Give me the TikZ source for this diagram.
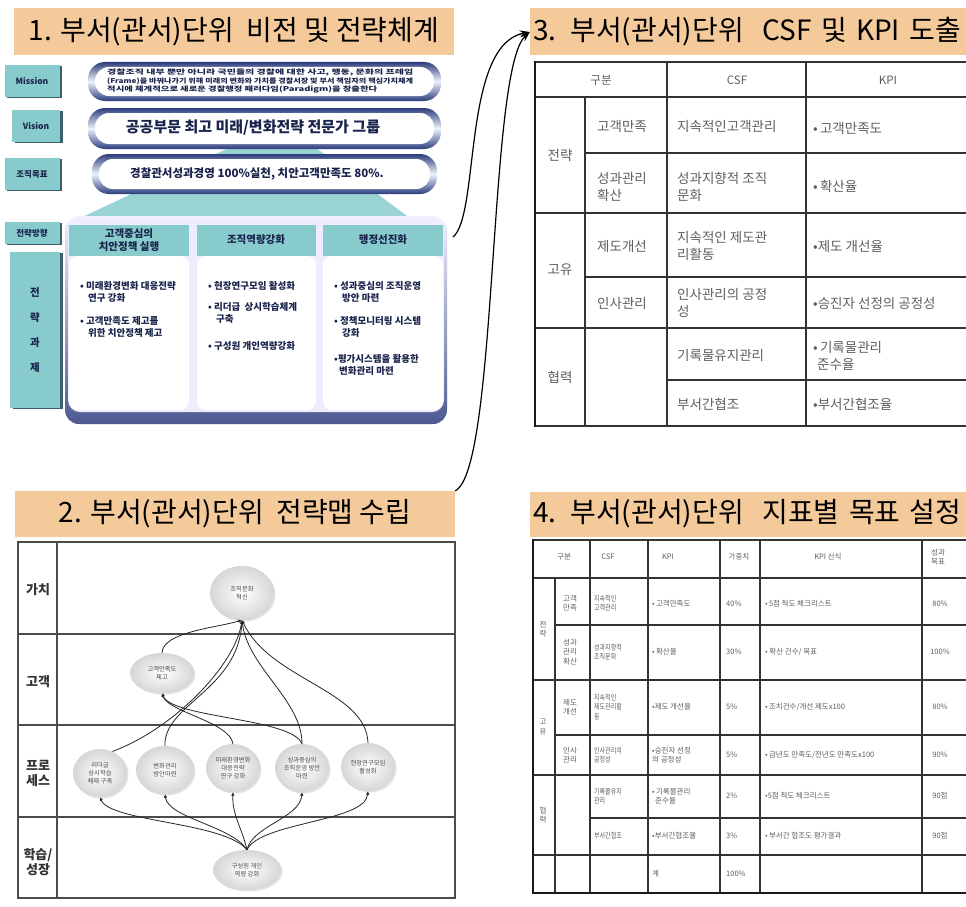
\documentclass[tikz,border=0pt]{standalone}
\usepackage{fontspec}
\setmainfont{Noto Sans CJK KR}
\usetikzlibrary{arrows.meta,shapes.geometric,shadows}
\definecolor{peach}{RGB}{245,202,155}
\definecolor{tealbox}{RGB}{135,203,204}
\definecolor{tealdark}{RGB}{60,95,105}
\definecolor{navy}{RGB}{45,60,125}
\definecolor{txtgray}{RGB}{95,95,95}
\definecolor{labnavy}{RGB}{25,35,75}
\definecolor{pale}{RGB}{236,243,250}
\newcommand{\fsz}[2]{\fontsize{#1}{#2}\selectfont}
\newcommand{\fitline}[2]{\resizebox{#1}{5.6pt}{\bfseries #2}}
\tikzset{
  titlebar/.style={fill=peach, minimum height=47pt, inner sep=0pt, font=\fsz{28}{31}},
  sidelab/.style={fill=tealbox, text=labnavy, font=\bfseries\fsz{8.5}{10}, inner sep=0pt, align=center,
     drop shadow={shadow xshift=2.5pt, shadow yshift=-1pt, fill=tealdark, opacity=1}},
  pillout/.style={rounded corners=17pt, top color=navy, bottom color=navy, middle color=pale},
  pillin/.style={rounded corners=14pt, fill=white},
  colhead/.style={fill=tealbox, text=labnavy, font=\bfseries\fsz{10.5}{13}, align=center, inner sep=0pt},
  colbody/.style={fill=white, rounded corners=9pt},
  bul/.style={anchor=north west, align=left, font=\bfseries\fsz{9.5}{12}, text=labnavy, inner sep=0pt},
  gridline/.style={line width=1.1pt, black!80},
  thickline/.style={line width=2.6pt, black!90},
  tbig/.style={text=txtgray, font=\fsz{13.5}{16.5}, align=left, inner sep=0pt},
  tsmall/.style={text=txtgray, font=\fsz{7.5}{9.5}, align=left, inner sep=0pt},
  rowlab/.style={text=black!80, font=\bfseries\fsz{13}{15}, align=center, inner sep=0pt},
  emap/.style={ellipse, inner sep=0pt, inner color=white, outer color=black!16, align=center, font=\fsz{6.3}{7.8}, text=black!70,
     drop shadow={shadow xshift=1.5pt, shadow yshift=-1.5pt, fill=black!25, opacity=0.45}},
  mapc/.style={line width=0.8pt, black!85, -{Latex[length=3.5pt,width=3.5pt]}},
  bigarrow/.style={line width=1.2pt, black, -{Stealth[length=10pt,width=7pt]}},
}
\begin{document}
\begin{tikzpicture}[x=1pt,y=-1pt]
\useasboundingbox (0,0) rectangle (966,907);
\fill[white] (0,0) rectangle (966,907);

%% ===== Panel 1 =====
\node[titlebar, minimum width=440pt] (t1) at (234,32) {1. 부서(관서)단위\ \ 비전 및 전략체계};

% teal mountain
\fill[tealbox!85] (235,145) -- (312,145) -- (415,222) -- (72,222) -- cycle;

% side labels
\node[sidelab, minimum width=55pt, minimum height=32pt] (lmis) at (32,81) {Mission};
\node[sidelab, minimum width=48pt, minimum height=32pt] (lvis) at (36,126) {Vision};
\node[sidelab, minimum width=55pt, minimum height=32pt] (lgoal) at (32,174) {조직목표};
\node[sidelab, minimum width=55pt, minimum height=22pt] (ldir) at (32,233) {전략방향};
\node[sidelab, minimum width=50pt, minimum height=156pt, font=\bfseries\fsz{10.5}{25}] (ltask) at (35,330) {전\\략\\과\\제};

% pills
\path[pillout] (88,62) rectangle (441,101);
\path[pillin] (95,67) rectangle (434,96);
\path[pillout] (88,108) rectangle (441,149);
\path[pillin] (95,113) rectangle (434,144);
\path[pillout] (92,154) rectangle (437,194);
\path[pillin] (99,159) rectangle (430,189);

\node[text=labnavy, align=left, inner sep=0pt, font=\fsz{7}{8.6}, anchor=west] (mtxt) at (107,81)
 {\fitline{306pt}{경찰조직 내부 뿐만 아니라 국민들의 경찰에 대한 사고, 행동, 문화의 프레임}\\
  \fitline{306pt}{(Frame)을 바꿔나가기 위해 미래의 변화와 가치를 경찰서장 및 부서 책임자의 핵심가치체계}\\
  \fitline{270pt}{적시에 체계적으로 새로운 경찰행정 패러다임(Paradigm)을 창출한다}};
\node[font=\bfseries\fsz{15}{18}, text=labnavy, inner sep=0pt] (vtxt) at (253,128) {공공부문 최고 미래/변화전략 전문가 그룹};
\node[font=\bfseries\fsz{11.5}{14}, text=labnavy, inner sep=0pt] (gtxt) at (257,174) {경찰관서성과경영 100\%실천, 치안고객만족도 80\%.};

% big box
\path[rounded corners=14pt, top color=blue!5, bottom color=navy!85] (65,216) rectangle (447,424);
\path[rounded corners=12pt, fill=white!93!blue] (68,219) rectangle (444,412);

% columns
\path[colbody] (69,256) rectangle (189,410);
\path[colbody] (197,256) rectangle (316,410);
\path[colbody] (323,256) rectangle (443,410);
\node[colhead, minimum width=120pt, minimum height=31pt] (h1) at (129,240) {고객중심의\\치안정책 실행};
\node[colhead, minimum width=119pt, minimum height=31pt] (h2) at (256,240) {조직역량강화};
\node[colhead, minimum width=120pt, minimum height=31pt] (h3) at (383,240) {행정선진화};

\node[bul] (b11) at (80,281) {•\ 미래환경변화 대응전략\\\hspace{8pt}연구 강화};
\node[bul] (b12) at (80,316) {•\ 고객만족도 제고를\\\hspace{8pt}위한 치안정책 제고};
\node[bul] (b21) at (208,281) {•\ 현장연구모임 활성화};
\node[bul] (b22) at (208,302) {•\ 리더급\ \ 상시학습체계\\\hspace{8pt}구축};
\node[bul] (b23) at (208,341) {•\ 구성원 개인역량강화};
\node[bul] (b31) at (334,281) {•\ 성과중심의 조직운영\\\hspace{8pt}방안 마련};
\node[bul] (b32) at (334,316) {•\ 정책모니터링 시스템\\\hspace{8pt}강화};
\node[bul] (b33) at (334,354) {•평가시스템을 활용한\\\hspace{5pt}변화관리 마련};

%% ===== Panel 3 =====
\node[titlebar, minimum width=436pt, text width=430pt, align=left] (t3) at (748,32) {3. 부서(관서)단위\ \ CSF 및 KPI 도출};
\draw[gridline] (535,62) -- (966,62);
\draw[gridline] (535,97) -- (966,97);
\draw[gridline] (585,153) -- (966,153);
\draw[gridline] (535,213) -- (966,213);
\draw[gridline] (585,277) -- (966,277);
\draw[gridline] (535,328) -- (966,328);
\draw[gridline] (667,380) -- (966,380);
\draw[gridline] (535,426) -- (966,426);
\draw[gridline] (585,97) -- (585,426);
\draw[gridline] (667,62) -- (667,426);
\draw[gridline] (806,62) -- (806,426);
\draw[thickline] (535,61) -- (535,427);

\node[tbig, font=\fsz{11.5}{14}] (c3h1) at (601,80) {구분};
\node[tbig, font=\fsz{11.5}{14}] (c3h2) at (737,80) {CSF};
\node[tbig, font=\fsz{11.5}{14}] (c3h3) at (888,80) {KPI};
\node[tbig] (c3a) at (560,155) {전략};
\node[tbig] (c3b) at (560,270) {고유};
\node[tbig] (c3c) at (560,377) {협력};
\node[tbig, anchor=west] (c3r1a) at (597,126) {고객만족};
\node[tbig, anchor=west] (c3r2a) at (597,187) {성과관리\\확산};
\node[tbig, anchor=west] (c3r3a) at (597,246) {제도개선};
\node[tbig, anchor=west] (c3r4a) at (597,303) {인사관리};
\node[tbig, anchor=west] (c3r1b) at (677,126) {지속적인고객관리};
\node[tbig, anchor=west] (c3r2b) at (677,187) {성과지향적 조직\\문화};
\node[tbig, anchor=west] (c3r3b) at (677,246) {지속적인 제도관\\리활동};
\node[tbig, anchor=west] (c3r4b) at (677,303) {인사관리의 공정\\성};
\node[tbig, anchor=west] (c3r5b) at (677,355) {기록물유지관리};
\node[tbig, anchor=west] (c3r6b) at (677,404) {부서간협조};
\node[tbig, anchor=west] (c3r1c) at (813,128) {•\,고객만족도};
\node[tbig, anchor=west] (c3r2c) at (813,186) {•\,확산율};
\node[tbig, anchor=west] (c3r3c) at (813,246) {•제도 개선율};
\node[tbig, anchor=west] (c3r4c) at (813,303) {•승진자 선정의 공정성};
\node[tbig, anchor=west] (c3r5c) at (813,356) {•\,기록물관리\\\hspace{4pt}준수율};
\node[tbig, anchor=west] (c3r6c) at (813,404) {•부서간협조율};

%% ===== Panel 2 =====
\node[titlebar, minimum width=440pt, minimum height=46pt] (t2) at (235,514) {2. 부서(관서)단위\ \ 전략맵 수립};
\draw[line width=1.2pt, black!70] (18,542) rectangle (455,898);
\draw[line width=1.2pt, black!70] (57,542) -- (57,898);
\draw[line width=1.2pt, black!70] (18,634) -- (455,634);
\draw[line width=1.2pt, black!70] (18,725) -- (455,725);
\draw[line width=1.2pt, black!70] (18,817) -- (455,817);
\node[rowlab] (rv) at (38,590) {가치};
\node[rowlab] (rc) at (38,682) {고객};
\node[rowlab] (rp) at (38,773) {프로\\세스};
\node[rowlab] (rl) at (38,862) {학습/\\성장};

\node[emap, minimum width=64pt, minimum height=54pt] (org) at (242,593) {조직문화\\혁신};
\node[emap, minimum width=64pt, minimum height=40pt] (cust) at (162,673) {고객만족도\\제고};
\node[emap, minimum width=54pt, minimum height=48pt] (p1) at (100,773) {리더급\\상시학습\\체제 구축};
\node[emap, minimum width=58pt, minimum height=48pt] (p2) at (165,770) {변화관리\\방안마련};
\node[emap, minimum width=54pt, minimum height=48pt] (p3) at (233,768) {미래환경변화\\대응전략\\연구 강화};
\node[emap, minimum width=54pt, minimum height=48pt] (p4) at (302,768) {성과중심의\\조직운영 방안\\마련};
\node[emap, minimum width=54pt, minimum height=48pt] (p5) at (368,767) {현장연구모임\\활성화};
\node[emap, minimum width=68pt, minimum height=40pt] (lg) at (247,870) {구성원 개인\\역량 강화};

\draw[mapc] (cust.north) .. controls (163,632) and (215,628) .. (org.south);
\draw[mapc] (p1.60) .. controls (175,728) and (235,665) .. (org.south);
\draw[mapc] (p2.north) .. controls (163,705) and (238,690) .. (org.south);
\draw[mapc] (p4.north) .. controls (302,700) and (248,668) .. (org.south);
\draw[mapc] (p5.north) .. controls (366,690) and (270,680) .. (org.south);
\draw[mapc] (p3.north) .. controls (230,722) and (168,712) .. (cust.south);
\draw[mapc] (p4.north) .. controls (292,718) and (172,718) .. (cust.south);
\draw[mapc] (lg.north) .. controls (225,822) and (110,822) .. (p1.south);
\draw[mapc] (lg.north) .. controls (232,826) and (168,818) .. (p2.south);
\draw[mapc] (lg.north) .. controls (242,828) and (232,815) .. (p3.south);
\draw[mapc] (lg.north) .. controls (252,826) and (300,818) .. (p4.south);
\draw[mapc] (lg.north) .. controls (260,822) and (365,822) .. (p5.south);

%% ===== Panel 4 =====
\node[titlebar, minimum width=436pt, minimum height=45pt, text width=430pt, align=left] (t4) at (748,514) {4. 부서(관서)단위\ \ 지표별 목표 설정};
\draw[gridline] (533,540) -- (966,540);
\draw[gridline] (533,578) -- (966,578);
\draw[gridline] (555,625) -- (966,625);
\draw[gridline] (533,680) -- (966,680);
\draw[gridline] (555,735) -- (966,735);
\draw[gridline] (533,775) -- (966,775);
\draw[gridline] (590,818) -- (966,818);
\draw[gridline] (533,855) -- (966,855);
\draw[gridline] (533,893) -- (966,893);
\draw[gridline] (555,578) -- (555,893);
\foreach \xx in {590,648,720,760,922} { \draw[gridline] (\xx,540) -- (\xx,893); }
\draw[thickline] (533,539) -- (533,894);
\draw[thickline] (532,893) -- (966,893);

\node[tsmall] (d0a) at (564,557) {구분};
\node[tsmall] (d0b) at (608,557) {CSF};
\node[tsmall] (d0c) at (668,557) {KPI};
\node[tsmall] (d0d) at (739,557) {가중치};
\node[tsmall] (d0e) at (828,557) {KPI 산식};
\node[tsmall, align=center] (d0f) at (938,557) {성과\\목표};
\node[tsmall, align=center] (dA) at (543,629) {전\\략};
\node[tsmall, align=center] (dB) at (543,727) {고\\유};
\node[tsmall, align=center] (dC) at (543,815) {협\\력};

\node[tsmall, align=center] (d1a) at (570,603) {고객\\만족};
\node[tsmall, anchor=west] (d1b) at (594,603) {\scalebox{0.8}[1]{\parbox{60pt}{지속적인\\고객관리}}};
\node[tsmall, anchor=west] (d1c) at (652,604) {•\,고객만족도};
\node[tsmall, anchor=west] (d1d) at (726,604) {40\%};
\node[tsmall, anchor=west] (d1e) at (765,604) {•\,5점 척도 체크리스트};
\node[tsmall] (d1f) at (940,604) {80\%};

\node[tsmall, align=center] (d2a) at (570,652) {성과\\관리\\확산};
\node[tsmall, anchor=west] (d2b) at (594,652) {\scalebox{0.8}[1]{\parbox{60pt}{성과지향적\\조직문화}}};
\node[tsmall, anchor=west] (d2c) at (652,652) {•\,확산율};
\node[tsmall, anchor=west] (d2d) at (726,652) {30\%};
\node[tsmall, anchor=west] (d2e) at (765,652) {•\ 확산 건수/ 목표};
\node[tsmall] (d2f) at (940,652) {100\%};

\node[tsmall, align=center] (d3a) at (570,707) {제도\\개선};
\node[tsmall, anchor=west] (d3b) at (594,707) {\scalebox{0.8}[1]{\parbox{60pt}{지속적인\\제도관리활\\동}}};
\node[tsmall, anchor=west] (d3c) at (652,707) {•제도 개선율};
\node[tsmall, anchor=west] (d3d) at (726,707) {5\%};
\node[tsmall, anchor=west] (d3e) at (765,707) {•\,조치건수/개선 제도x100};
\node[tsmall] (d3f) at (940,707) {80\%};

\node[tsmall, align=center] (d4a) at (570,755) {인사\\관리};
\node[tsmall, anchor=west] (d4b) at (594,755) {\scalebox{0.8}[1]{\parbox{60pt}{인사관리의\\공정성}}};
\node[tsmall, anchor=west] (d4c) at (652,755) {•승진자 선정\\의 공정성};
\node[tsmall, anchor=west] (d4d) at (726,755) {5\%};
\node[tsmall, anchor=west] (d4e) at (765,755) {•\,금년도 만족도/전년도 만족도x100};
\node[tsmall] (d4f) at (940,755) {90\%};

\node[tsmall, anchor=west] (d5b) at (594,796) {\scalebox{0.8}[1]{\parbox{60pt}{기록물유지\\관리}}};
\node[tsmall, anchor=west] (d5c) at (652,796) {•\,기록물관리\\\hspace{3pt}준수율};
\node[tsmall, anchor=west] (d5d) at (726,796) {2\%};
\node[tsmall, anchor=west] (d5e) at (765,796) {•5점 척도 체크리스트};
\node[tsmall] (d5f) at (940,796) {90점};

\node[tsmall, anchor=west] (d6b) at (594,836) {\scalebox{0.8}[1]{부서간협조}};
\node[tsmall, anchor=west] (d6c) at (652,836) {•부서간협조율};
\node[tsmall, anchor=west] (d6d) at (726,836) {3\%};
\node[tsmall, anchor=west] (d6e) at (765,836) {•\,부서간 협조도 평가결과};
\node[tsmall] (d6f) at (940,836) {90점};

\node[tsmall, anchor=west] (d7c) at (652,874) {계};
\node[tsmall, anchor=west] (d7d) at (726,874) {100\%};

%% ===== linking arrows =====
\coordinate (a1) at (453,237);
\draw[bigarrow] (a1) .. controls (480,215) and (462,45) .. (t3.west);
\draw[bigarrow] (t2.north east) .. controls (498,470) and (488,70) .. (t3.west);
\end{tikzpicture}
\end{document}
